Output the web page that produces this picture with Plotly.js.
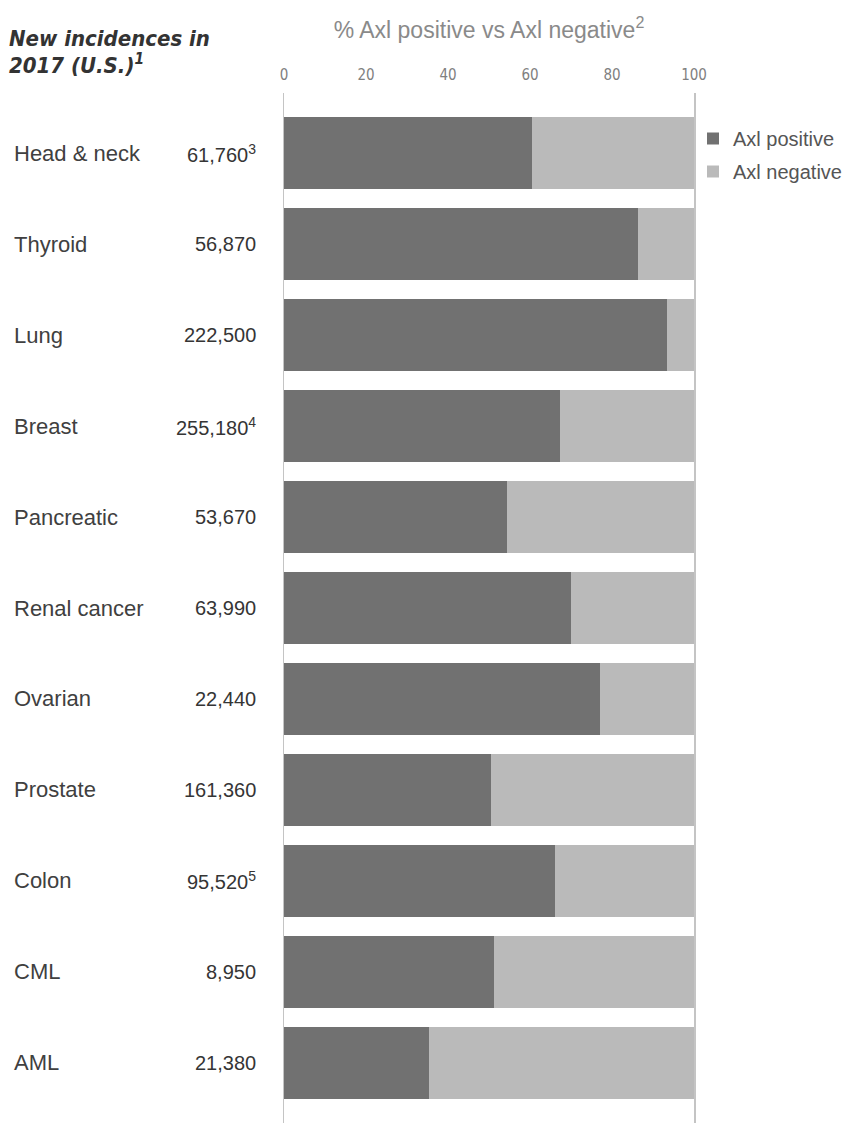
<!DOCTYPE html>
<html>
<head>
<meta charset="utf-8">
<script src="https://cdn.plot.ly/plotly-3.0.1.min.js"></script>
<style>
html,body{margin:0;padding:0;background:#fff;overflow:hidden;}
#chart{width:848px;height:1123px;}
</style>
</head>
<body>
<div id="chart"></div>
<script>
// ---- data ----
var categories = ['Head & neck','Thyroid','Lung','Breast','Pancreatic','Renal cancer','Ovarian','Prostate','Colon','CML','AML'];
var incidences = ['61,760','56,870','222,500','255,180','53,670','63,990','22,440','161,360','95,520','8,950','21,380'];
var footnotes  = ['3','','','4','','','','','5','',''];
var axlPositive = [60.4, 86.4, 93.3, 67.2, 54.5, 70.0, 77.1, 50.4, 66.2, 51.2, 35.4];
var axlNegative = [39.6, 13.6, 6.7, 32.8, 45.5, 30.0, 22.9, 49.6, 33.8, 48.8, 64.6];
var xTicks = [0, 20, 40, 60, 80, 100];

// ---- geometry helpers (layout only) ----
var W = 848, H = 1123;
var mL = 284, mR = W - 694, mT = 93, mB = 0;
var pw = W - mL - mR, ph = H - mT - mB;
function px2x(px){ return (px - mL) / pw; }
function py2y(py){ return (H - mB - py) / ph; }

var darkCol = '#717171', lightCol = '#bababa';

var traces = [
  {type:'bar', orientation:'h', name:'Axl positive', y:categories, x:axlPositive,
   marker:{color:darkCol}, legendgroup:'a', hoverinfo:'x+y'},
  {type:'bar', orientation:'h', name:'Axl negative', y:categories, x:axlNegative,
   marker:{color:lightCol}, legendgroup:'b', hoverinfo:'x+y'}
];

var annotations = [];
categories.forEach(function(c, i){
  annotations.push({xref:'paper', yref:'y', x:px2x(12), y:c, xanchor:'left', yanchor:'middle',
    text:c, showarrow:false, font:{family:'Liberation Sans, Arial, sans-serif', size:22, color:'#404040'}});
  var t = incidences[i] + (footnotes[i] ? '<sup>' + footnotes[i] + '</sup>' : '');
  annotations.push({xref:'paper', yref:'y', x:px2x(258), y:c, xanchor:'right', yanchor:'middle',
    text:t, showarrow:false, font:{family:'Liberation Sans, Arial, sans-serif', size:20, color:'#353535'}});
});
var headFont = {family:'DejaVu Sans Condensed, Liberation Sans, sans-serif', size:22, color:'#333'};
annotations.push({xref:'paper', yref:'paper', x:px2x(7), y:py2y(38), xanchor:'left', yanchor:'middle',
  text:'<b><i>New incidences in</i></b>', showarrow:false, font:headFont});
annotations.push({xref:'paper', yref:'paper', x:px2x(7), y:py2y(64), xanchor:'left', yanchor:'middle',
  text:'<b><i>2017 (U.S.)<sup>1</sup></i></b>', showarrow:false, font:headFont});

var layout = {
  width:W, height:H,
  margin:{l:mL, r:mR, t:mT, b:mB, pad:0, autoexpand:false},
  paper_bgcolor:'#fff', plot_bgcolor:'#fff',
  barmode:'stack', bargap:0.2,
  title:{text:'% Axl positive vs Axl negative<sup>2</sup>', xref:'paper', x:0.5, xanchor:'center',
         yref:'container', y:1 - 30/H, yanchor:'middle',
         font:{family:'Liberation Sans, Arial, sans-serif', size:23, color:'#8a8a8a'}},
  xaxis:{side:'top', range:[0,100], tickvals:xTicks, ticktext:xTicks.map(String),
         showgrid:false, zeroline:false, showline:false,
         ticks:'outside', ticklen:6, tickcolor:'rgba(0,0,0,0)',
         tickfont:{family:'DejaVu Sans Condensed, Liberation Sans, sans-serif', size:15, color:'#808080'},
         fixedrange:true},
  yaxis:{type:'category', categoryorder:'array', categoryarray:categories,
         range:[10.66, -0.66], showticklabels:false, ticks:'', showgrid:false, zeroline:false,
         showline:true, mirror:true, linecolor:'#c4c4c4', linewidth:1.5, fixedrange:true},
  showlegend:true,
  legend:{x:px2x(693), xanchor:'left', y:py2y(119), yanchor:'top', traceorder:'grouped',
          tracegroupgap:4, bgcolor:'rgba(0,0,0,0)',
          font:{family:'Liberation Sans, Arial, sans-serif', size:20, color:'#555'}},
  annotations:annotations
};

Plotly.newPlot('chart', traces, layout, {displayModeBar:false, staticPlot:true});
</script>
</body>
</html>
